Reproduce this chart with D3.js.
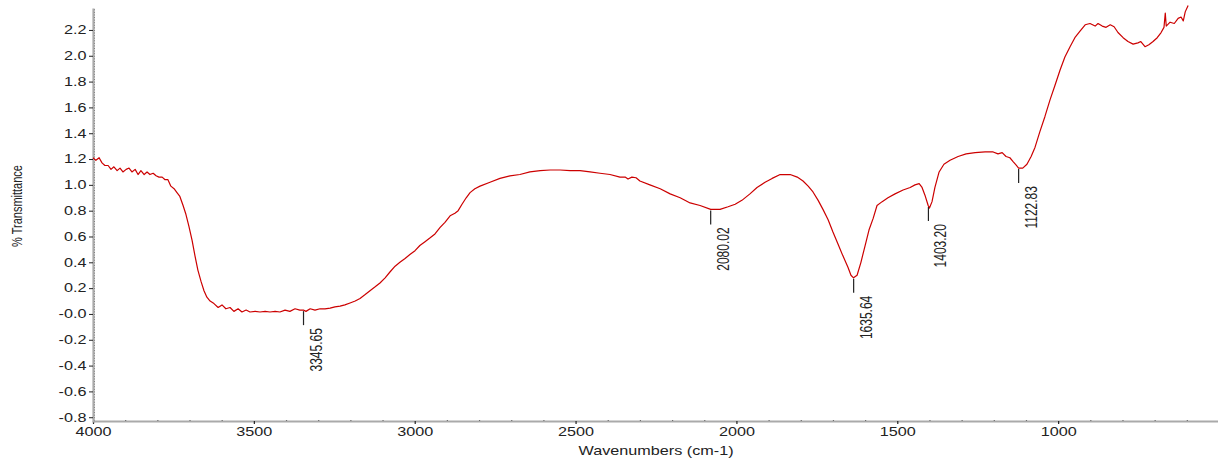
<!DOCTYPE html>
<html>
<head>
<meta charset="utf-8">
<script src="https://cdn.jsdelivr.net/npm/d3@7"></script>
<style>
  html, body { margin: 0; padding: 0; background: #fff; }
  svg { display: block; }
  text { font-family: "Liberation Sans", Arial, sans-serif; fill: #222; }
</style>
</head>
<body>
<svg id="chart" width="1218" height="459"></svg>
<script>
// ---- data ----
const wavenumbers = [
  4000,3991,3981,3972,3963,3953,3944,3935,3925,3916,3907,3897,3888,3879,3869,3860,3851,3841,3832,3823,
  3813,3804,3795,3785,3776,3767,3758,3748,3739,3730,3720,3711,3702,3692,3683,3674,3664,3655,3646,3636,
  3624,3611,3599,3587,3574,3562,3549,3537,3524,3512,3496,3481,3465,3450,3434,3419,3403,3388,3372,3357,
  3346,3338,3325,3310,3294,3279,3263,3248,3232,3217,3201,3185,3170,3154,3139,3123,3108,3092,3077,3061,
  3046,3030,3015,2999,2984,2968,2952,2937,2921,2906,2890,2875,2865,2853,2840,2828,2813,2797,2766,2735,
  2704,2673,2642,2610,2579,2548,2517,2486,2455,2424,2393,2362,2346,2337,2325,2312,2300,2269,2237,2206,
  2175,2144,2113,2080,2051,2026,2004,1983,1958,1936,1911,1889,1864,1833,1811,1793,1777,1762,1746,1731,
  1715,1700,1684,1669,1653,1644,1636,1625,1613,1600,1588,1575,1563,1547,1529,1507,1482,1460,1445,1432,
  1423,1414,1404,1400,1392,1383,1370,1355,1336,1311,1286,1258,1227,1202,1187,1174,1162,1150,1140,1131,
  1123,1110,1097,1084,1072,1057,1041,1025,1010,994,979,963,948,932,916,901,885,876,863,851,
  838,826,814,798,783,767,752,743,730,718,705,692,680,671,667,664,652,639,627,618,
  611,605,596
];
const transmittance = [
  1.21,1.19,1.21,1.17,1.15,1.15,1.12,1.14,1.11,1.13,1.10,1.12,1.13,1.10,1.12,1.08,1.11,1.08,1.10,1.08,
  1.09,1.07,1.06,1.06,1.04,1.04,0.99,0.97,0.94,0.91,0.84,0.77,0.68,0.57,0.45,0.34,0.25,0.18,0.13,0.10,
  0.08,0.05,0.07,0.04,0.05,0.02,0.04,0.015,0.03,0.015,0.02,0.015,0.02,0.015,0.02,0.015,0.03,0.02,0.04,0.03,
  0.03,0.02,0.04,0.03,0.04,0.04,0.045,0.055,0.06,0.07,0.085,0.10,0.12,0.15,0.18,0.21,0.24,0.28,0.325,0.37,
  0.40,0.43,0.46,0.49,0.53,0.56,0.59,0.62,0.67,0.71,0.76,0.78,0.80,0.85,0.90,0.94,0.97,0.99,1.02,1.05,
  1.07,1.08,1.10,1.11,1.115,1.115,1.11,1.11,1.10,1.09,1.08,1.06,1.06,1.045,1.06,1.055,1.03,1.00,0.97,0.93,
  0.90,0.86,0.84,0.81,0.81,0.83,0.85,0.88,0.93,0.98,1.02,1.05,1.08,1.08,1.06,1.03,0.99,0.945,0.88,0.81,
  0.73,0.635,0.54,0.45,0.36,0.30,0.28,0.30,0.40,0.53,0.65,0.74,0.84,0.87,0.90,0.93,0.96,0.98,1.00,1.01,
  0.98,0.92,0.84,0.82,0.87,0.98,1.10,1.16,1.19,1.22,1.24,1.25,1.255,1.255,1.24,1.25,1.22,1.21,1.18,1.155,
  1.13,1.13,1.16,1.22,1.29,1.41,1.53,1.66,1.77,1.89,1.99,2.07,2.14,2.19,2.24,2.25,2.23,2.25,2.23,2.22,
  2.24,2.225,2.18,2.14,2.11,2.09,2.10,2.11,2.07,2.085,2.11,2.14,2.18,2.22,2.33,2.23,2.26,2.25,2.29,2.30,
  2.27,2.34,2.39
];
const peakPositions = [3345.65, 2080.02, 1635.64, 1403.20, 1122.83];
const peakLabels = ["3345.65", "2080.02", "1635.64", "1403.20", "1122.83"];
const xTickValues = [4000, 3500, 3000, 2500, 2000, 1500, 1000];
const xTickLabels = ["4000", "3500", "3000", "2500", "2000", "1500", "1000"];
const yTickValues = [-0.8, -0.6, -0.4, -0.2, 0.0, 0.2, 0.4, 0.6, 0.8, 1.0, 1.2, 1.4, 1.6, 1.8, 2.0, 2.2];
const yTickLabels = ["-0.8", "-0.6", "-0.4", "-0.2", "-0.0", "0.2", "0.4", "0.6", "0.8", "1.0", "1.2", "1.4", "1.6", "1.8", "2.0", "2.2"];
const xTitle = "Wavenumbers (cm-1)";
const yTitle = "% Transmittance";

// ---- layout ----
const STRETCH = 1.35;   // reference text is horizontally stretched
const svg = d3.select("#chart");
const x = d3.scaleLinear().domain([4000, 500]).range([93, 1219]);
const y = d3.scaleLinear().domain([-0.837, 2.37]).range([422, 8]);
const axisY0 = 421;

// minor ticks
const xMinor = d3.range(3900, 500, -100).filter(v => v % 500 !== 0);
svg.append("g").attr("transform", `translate(0,${axisY0})`)
  .call(d3.axisBottom(x).tickValues(xMinor).tickSize(2).tickFormat(""))
  .call(g => g.select(".domain").remove())
  .call(g => g.selectAll("line").attr("stroke", "#333").attr("stroke-width", 1.2).attr("transform", "translate(0,-1)"));

const yMinor = d3.range(-41, 119).map(i => i * 0.02);
svg.append("g").attr("transform", `translate(93,0)`)
  .call(d3.axisLeft(y).tickValues(yMinor).tickSize(-2).tickFormat(""))
  .call(g => g.select(".domain").remove())
  .call(g => g.selectAll("line").attr("stroke", "#444").attr("stroke-width", 1));

// X axis
const xAxis = svg.append("g").attr("transform", `translate(0,${axisY0})`)
  .call(d3.axisBottom(x).tickValues(xTickValues).tickSizeInner(3).tickSizeOuter(0)
        .tickFormat((d, i) => xTickLabels[i]));
xAxis.select(".domain").attr("stroke", "#aaa").attr("stroke-width", 2.2);
xAxis.selectAll(".tick line").attr("stroke", "#222").attr("stroke-width", 1.2);
xAxis.selectAll(".tick text").attr("font-size", 12)
  .attr("font-family", "Liberation Sans, Arial, sans-serif")
  .attr("fill", "#222")
  .attr("transform", `scale(${STRETCH},1)`);

// Y axis
const yAxis = svg.append("g").attr("transform", `translate(93,0)`)
  .call(d3.axisLeft(y).tickValues(yTickValues).tickSizeInner(4).tickSizeOuter(0)
        .tickFormat((d, i) => yTickLabels[i]));
yAxis.select(".domain").attr("stroke", "#aaa").attr("stroke-width", 2.2);
yAxis.selectAll(".tick line").attr("stroke", "#222").attr("stroke-width", 1);
yAxis.selectAll(".tick text").attr("font-size", 12)
  .attr("font-family", "Liberation Sans, Arial, sans-serif")
  .attr("fill", "#222")
  .attr("x", -6.5 / STRETCH)
  .attr("transform", `scale(${STRETCH},1)`);

// Spectrum
const pts = wavenumbers.map((w, i) => [w, transmittance[i]]);
svg.append("path")
  .datum(pts)
  .attr("fill", "none")
  .attr("stroke", "#cc0000")
  .attr("stroke-width", 1.2)
  .attr("stroke-linejoin", "round")
  .attr("d", d3.line().x(d => x(d[0])).y(d => y(d[1])));

// Peak markers
const interp = (w) => {
  for (let i = 0; i < pts.length - 1; i++) {
    const a = pts[i], b = pts[i + 1];
    if (w <= a[0] && w >= b[0]) {
      const t = (a[0] - w) / (a[0] - b[0]);
      return a[1] + t * (b[1] - a[1]);
    }
  }
  return pts[pts.length - 1][1];
};
peakPositions.forEach((p, i) => {
  const px = x(p), py = y(interp(p));
  svg.append("line")
    .attr("x1", px).attr("x2", px)
    .attr("y1", py + 1).attr("y2", py + 15)
    .attr("stroke", "#222").attr("stroke-width", 1.2);
  svg.append("text")
    .attr("transform", `translate(${px + 18},${py + 18}) scale(${STRETCH},1) rotate(-90)`)
    .attr("text-anchor", "end")
    .attr("font-size", 12)
    .text(peakLabels[i]);
});

// Titles
svg.append("text")
  .attr("transform", `translate(656,455) scale(${STRETCH},1)`)
  .attr("text-anchor", "middle")
  .attr("font-size", 12)
  .text(xTitle);
svg.append("text")
  .attr("transform", `translate(22,206) scale(${STRETCH},1) rotate(-90)`)
  .attr("text-anchor", "middle")
  .attr("font-size", 11)
  .text(yTitle);
</script>
</body>
</html>
